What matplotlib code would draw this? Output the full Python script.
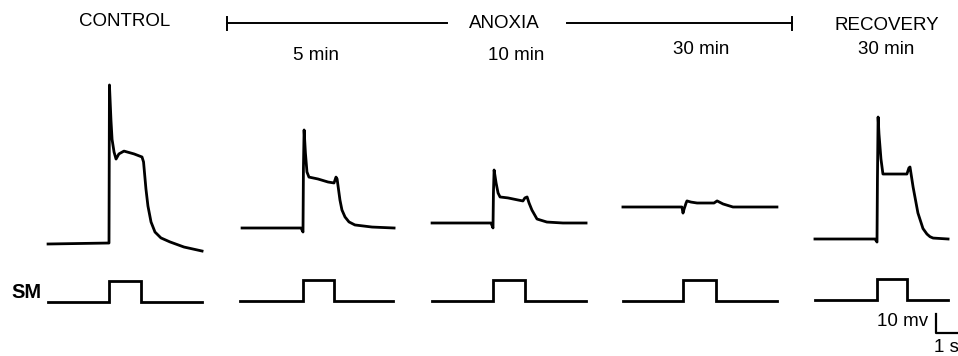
"""
Intracellular responses to a stimulus marker (SM) in control, during anoxia
(5, 10, 30 min) and after 30 min of recovery. Traces in s / mV relative to
stimulus onset and resting level.
"""
import matplotlib
matplotlib.use("Agg")
import matplotlib.pyplot as plt
from matplotlib.transforms import Affine2D

plt.rcParams.update({"font.family": ["Liberation Sans", "DejaVu Sans"]})

# --- data: time (s) from stimulus onset, potential (mV) from resting level ---
ctrl_t = [-2.77, -0.09, 0, 0.02, 0.09, 0.14, 0.23, 0.32, 0.45, 0.68, 1.14,
          1.50, 1.57, 1.68, 1.77, 1.91, 2.09, 2.36, 2.77, 3.41, 4.23]
ctrl_v = [0, 0.5, 0.5, 83.7, 65.0, 55.0, 48.4, 44.7, 47.4, 48.9, 47.4,
          45.8, 43.2, 28.9, 20.0, 11.6, 6.3, 3.2, 1.1, -1.6, -3.7]

an5_t = [-2.77, -0.09, 0, 0.02, 0.05, 0.11, 0.18, 0.27, 0.68, 1.14, 1.41,
         1.50, 1.55, 1.68, 1.77, 1.91, 2.09, 2.36, 3.14, 4.14]
an5_v = [0, 0, -2.1, 31.6, 51.6, 39.5, 29.5, 26.8, 25.8, 24.2, 23.7,
         26.8, 25.8, 14.7, 9.5, 5.8, 3.2, 1.6, 0.5, 0]

an10_t = [-2.77, -0.09, 0, 0.02, 0.05, 0.14, 0.23, 0.32, 0.68, 1.14, 1.36,
          1.45, 1.55, 1.64, 1.77, 2.00, 2.45, 3.18, 4.23]
an10_v = [0, 0, -2.6, 15.8, 27.9, 21.1, 15.8, 13.7, 13.2, 12.1, 11.6,
          13.2, 13.7, 10.5, 6.8, 2.1, 0.5, 0, 0]

an30_t = [-2.73, -0.05, 0, 0.05, 0.14, 0.18, 0.36, 0.64, 1.00, 1.23, 1.41,
          1.55, 1.82, 2.27, 4.27]
an30_v = [0, 0, -3.2, -1.1, 2.1, 3.2, 2.6, 2.1, 2.1, 2.1, 2.1,
          3.2, 1.6, 0, 0]

rec_t = [-2.82, -0.09, 0, 0.02, 0.05, 0.09, 0.18, 0.27, 0.36, 0.91, 1.36,
         1.45, 1.50, 1.64, 1.86, 2.09, 2.27, 2.41, 2.55, 3.23]
rec_v = [0, 0, -1.6, 31.6, 64.2, 55.3, 42.1, 34.2, 34.2, 34.2, 34.2,
         37.4, 37.9, 27.4, 13.7, 5.5, 2.6, 1.2, 0.5, 0]

# stimulus marker: pulse duration (s) and trace extent (s)
sm_width = [1.45, 1.41, 1.45, 1.50, 1.36]
sm_start = [-2.77, -2.86, -2.77, -2.73, -2.82]
sm_end = [4.23, 4.09, 4.23, 4.27, 3.23]

traces = [(ctrl_t, ctrl_v), (an5_t, an5_v), (an10_t, an10_v),
          (an30_t, an30_v), (rec_t, rec_v)]
time_labels = ["", "5 min", "10 min", "30 min", "30 min"]

# --- layout (pixels) ---
PX_S, PX_MV, PX_SM = 22, 1.9, 21
stim_x = [109, 303, 493, 683, 877]
trace_y = [244, 228, 223, 207, 239]
sm_y = [302, 301, 301, 301, 300]
label_pos = [None, (316, 56), (516, 56), (701, 50), (886, 50)]
LW = 2.0
FS = 13.5

fig = plt.figure(figsize=(9.58, 3.56), dpi=100)
ax = fig.add_axes([0, 0, 1, 1])
ax.set_xlim(0, 958)
ax.set_ylim(356, 0)
ax.axis("off")

for i, (t, v) in enumerate(traces):
    tr = Affine2D().scale(PX_S, -PX_MV).translate(stim_x[i], trace_y[i]) + ax.transData
    ax.plot(t, v, color="black", lw=LW, transform=tr, solid_joinstyle="round")
    w = sm_width[i]
    trs = Affine2D().scale(PX_S, -PX_SM).translate(stim_x[i], sm_y[i]) + ax.transData
    ax.plot([sm_start[i], 0, 0, w, w, sm_end[i]], [0, 0, 1, 1, 0, 0],
            color="black", lw=LW, transform=trs, solid_joinstyle="miter")
    if label_pos[i]:
        ax.text(*label_pos[i], time_labels[i], ha="center", va="center", fontsize=FS)

# headers
ax.text(125, 22, "CONTROL", ha="center", va="center", fontsize=FS)
ax.text(504, 24, "ANOXIA", ha="center", va="center", fontsize=FS)
ax.text(887, 26, "RECOVERY", ha="center", va="center", fontsize=FS)
ax.plot([227, 447], [23, 23], color="black", lw=1.4)
ax.plot([567, 792], [23, 23], color="black", lw=1.4)
ax.plot([227, 227], [17, 30], color="black", lw=1.4)
ax.plot([792, 792], [17, 30], color="black", lw=1.4)
ax.text(26, 292, "SM", ha="center", va="center", fontsize=14.5, fontweight="bold")

# scale bar: 10 mV, 1 s
sb = Affine2D().scale(PX_S, -PX_MV).translate(936, 333) + ax.transData
ax.plot([0, 0, 1], [10, 0, 0], color="black", lw=1.6, transform=sb)
ax.text(928, 321, "10 mv", ha="right", va="center", fontsize=FS)
ax.text(946, 347, "1 s", ha="center", va="center", fontsize=FS)

fig.savefig("out.png", dpi=100)
